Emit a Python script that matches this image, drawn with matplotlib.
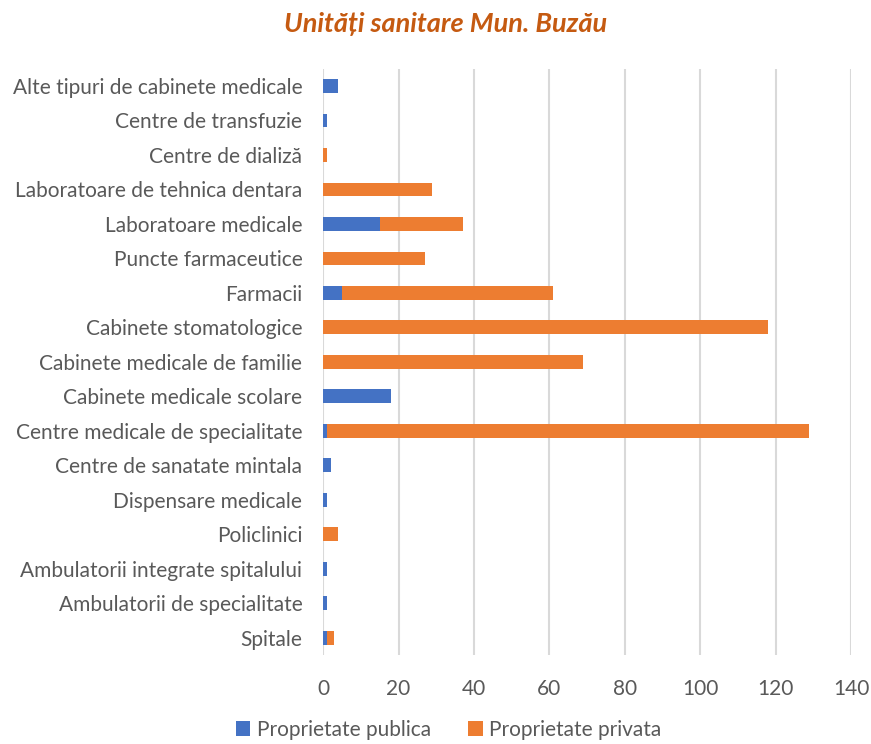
import matplotlib
matplotlib.use("Agg")
import matplotlib.pyplot as plt
import numpy as np

categories = [
    "Spitale",
    "Ambulatorii de specialitate",
    "Ambulatorii integrate spitalului",
    "Policlinici",
    "Dispensare medicale",
    "Centre de sanatate mintala",
    "Centre medicale de specialitate",
    "Cabinete medicale scolare",
    "Cabinete medicale de familie",
    "Cabinete stomatologice",
    "Farmacii",
    "Puncte farmaceutice",
    "Laboratoare medicale",
    "Laboratoare de tehnica dentara",
    "Centre de dializă",
    "Centre de transfuzie",
    "Alte tipuri de cabinete medicale",
]
publica = [1, 1, 1, 0, 1, 2, 1, 18, 0, 0, 5, 0, 15, 0, 0, 1, 4]
privata = [2, 0, 0, 4, 0, 0, 128, 0, 69, 118, 56, 27, 22, 29, 1, 0, 0]
x_ticks = [0, 20, 40, 60, 80, 100, 120, 140]

plt.rcParams['font.family'] = ['Lato', 'DejaVu Sans']
text_color = "#595959"

fig = plt.figure(figsize=(8.71, 7.44), dpi=100)
ax = fig.add_axes([0.371, 0.1196, 0.606, 0.788])

y = np.arange(len(categories))
ax.barh(y, publica, height=0.4, color="#4472C4", label="Proprietate publica", zorder=3)
ax.barh(y, privata, left=publica, height=0.4, color="#ED7D31", label="Proprietate privata", zorder=3)

ax.set_xlim(0, 140)
ax.set_ylim(-0.5, len(categories) - 0.5)
ax.set_xticks(x_ticks)
ax.set_yticks(y)
ax.set_yticklabels(categories)
ax.tick_params(axis="both", length=0, colors=text_color, labelsize=15)
ax.tick_params(axis="x", pad=17)
ax.tick_params(axis="y", pad=15)
ax.grid(axis="x", color="#D9D9D9", linewidth=1.5, zorder=0)
for s in ax.spines.values():
    s.set_visible(False)

fig.text(0.511, 0.968, "Unități sanitare Mun. Buzău", ha="center", va="center",
         fontsize=19.5, fontweight="bold", fontstyle="italic", color="#C55A11")

# legenda jos, pe doua coloane
fig.legend(loc="center", bbox_to_anchor=(0.515, 0.019), ncol=2, frameon=False,
           fontsize=15, labelcolor=text_color, handlelength=0.7, handleheight=0.7,
           handletextpad=0.3, columnspacing=1.8, borderpad=0.2)

fig.savefig("out.png", dpi=100)
